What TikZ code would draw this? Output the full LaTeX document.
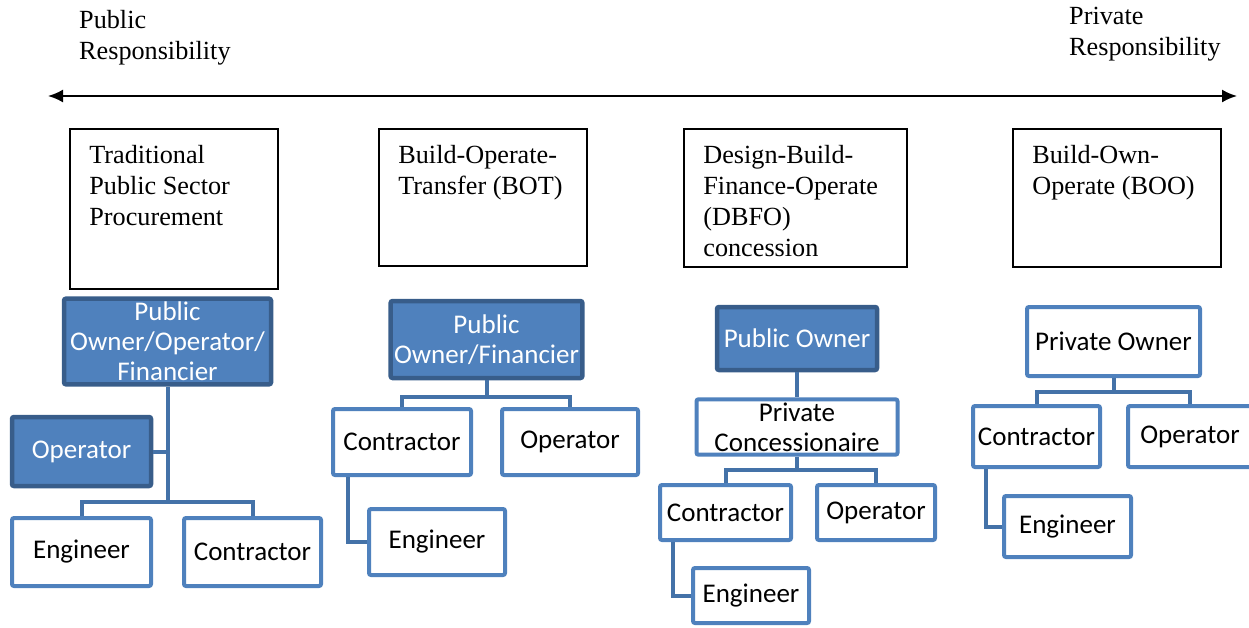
\documentclass[tikz,border=0pt]{standalone}
\usepackage{fontspec}
\setmainfont{Liberation Serif}
\newfontfamily\boxfont{Carlito}
\usetikzlibrary{arrows.meta}
\definecolor{boxblue}{RGB}{79,129,189}
\definecolor{edgeblue}{RGB}{56,93,138}
\definecolor{linkblue}{RGB}{68,114,168}

\begin{document}
\begin{tikzpicture}[x=1pt,y=-1pt]
\tikzstyle{scaletext}=[anchor=north west,align=left,inner sep=0pt,font=\fontsize{26.2}{31}\selectfont]
\tikzstyle{modelbox}=[draw,line width=1.6pt,minimum width=208pt]
\tikzstyle{modeltext}=[anchor=north west,align=left,inner sep=0pt,font=\fontsize{26.2}{31}\selectfont]
\tikzstyle{ownerbox}=[draw=edgeblue,fill=boxblue,line width=4.5pt,rounded corners=2pt,text=white,align=center,font=\boxfont\fontsize{27}{30}\selectfont]
\tikzstyle{rolebox}=[draw=boxblue,fill=white,line width=4pt,rounded corners=2pt,align=center,font=\boxfont\fontsize{27}{30}\selectfont]
\tikzstyle{link}=[draw=linkblue,line width=4pt]
%\tikzstyle{link}=[draw=linkblue,line width=3pt,rounded corners]

\useasboundingbox (0,0) rectangle (1249,627);

\node[scaletext] (pub) at (79,10) {Public\\Responsibility};
\node[scaletext] (priv) at (1069,7) {Private\\Responsibility};
\coordinate (pubend) at (48,96);
\coordinate (privend) at (1237,96);
\draw[{Latex[length=15pt,width=13pt]}-{Latex[length=15pt,width=13pt]},line width=2pt] (pubend) -- (privend);

\node[modelbox,minimum height=160pt] (m1) at (174,209) {};
\node[modelbox,minimum height=137pt] (m2) at (483,197.5) {};
\node[modelbox,minimum width=223pt,minimum height=138pt] (m3) at (795.5,198) {};
\node[modelbox,minimum height=138pt] (m4) at (1117,198) {};
\node[modeltext] (t1) at ([xshift=20pt,yshift=-17pt]m1.north west) {Traditional\\Public Sector\\Procurement};
\node[modeltext] (t2) at ([xshift=20pt,yshift=-17pt]m2.north west) {Build-Operate-\\Transfer (BOT)};
\node[modeltext] (t3) at ([xshift=20pt,yshift=-17pt]m3.north west) {Design-Build-\\Finance-Operate\\(DBFO)\\concession};
\node[modeltext] (t4) at ([xshift=20pt,yshift=-17pt]m4.north west) {Build-Own-\\Operate (BOO)};

% traditional
\node[ownerbox,minimum width=207pt,minimum height=85pt] (own1) at (167.5,341.5) {Public\\Owner/Operator/\\Financier};
\node[ownerbox,minimum width=139pt,minimum height=69pt] (op1) at (81.5,451.5) {Operator};
\node[rolebox,minimum width=139pt,minimum height=68pt] (eng1) at (81.5,552) {Engineer};
\node[rolebox,minimum width=137pt,minimum height=68pt] (con1) at (252.5,552) {Contractor};
\coordinate (split1) at (0,502);
\draw[link] (own1.south) -- (own1.south |- split1) -| (eng1.north);
\draw[link] (own1.south |- split1) -| (con1.north);
\draw[link] (op1.east) -- (op1.east -| own1.south);

% BOT
\node[ownerbox,minimum width=187pt,minimum height=77pt] (own2) at (486.5,339.5) {Public\\Owner/Financier};
\node[rolebox,minimum width=138pt,minimum height=66pt] (con2) at (402,442) {Contractor};
\node[rolebox,minimum width=136pt,minimum height=66pt] (opr2) at (570,442) {Operator};
\node[rolebox,minimum width=136pt,minimum height=66pt] (eng2) at (437,542) {Engineer};
\coordinate (split2) at (0,397);
\draw[link] (own2.south) -- (own2.south |- split2) -| (con2.north);
\draw[link] (own2.south |- split2) -| (opr2.north);
\draw[link] ([xshift=17pt]con2.south west) |- (eng2.west);

% DBFO
\node[ownerbox,minimum width=160pt,minimum height=63pt] (own3) at (797,338.5) {Public Owner};
\node[rolebox,minimum width=201pt,minimum height=54pt] (conc3) at (797,427) {Private\\Concessionaire};
\node[rolebox,minimum width=131pt,minimum height=55pt] (con3) at (725.5,512.5) {Contractor};
\node[rolebox,minimum width=118pt,minimum height=55pt] (opr3) at (876,512.5) {Operator};
\node[rolebox,minimum width=116pt,minimum height=55pt] (eng3) at (751,595.5) {Engineer};
\coordinate (split3) at (0,470);
\draw[link] (own3.south) -- (conc3.north);
\draw[link] (conc3.south) -- (conc3.south |- split3) -| (con3.north);
\draw[link] (conc3.south |- split3) -| (opr3.north);
\draw[link] ([xshift=15pt]con3.south west) |- (eng3.west);

% BOO
\node[rolebox,minimum width=173pt,minimum height=69pt] (own4) at (1113.5,341.5) {Private Owner};
\node[rolebox,minimum width=127pt,minimum height=61pt] (con4) at (1036.5,436.5) {Contractor};
\node[rolebox,minimum width=124pt,minimum height=61pt] (opr4) at (1190,436.5) {Operator};
\node[rolebox,minimum width=127pt,minimum height=61pt] (eng4) at (1067.5,526.5) {Engineer};
\coordinate (split4) at (0,392);
\draw[link] (own4.south) -- (own4.south |- split4) -| (con4.north);
\draw[link] (own4.south |- split4) -| (opr4.north);
\draw[link] ([xshift=15pt]con4.south west) |- (eng4.west);

\end{tikzpicture}
\end{document}
